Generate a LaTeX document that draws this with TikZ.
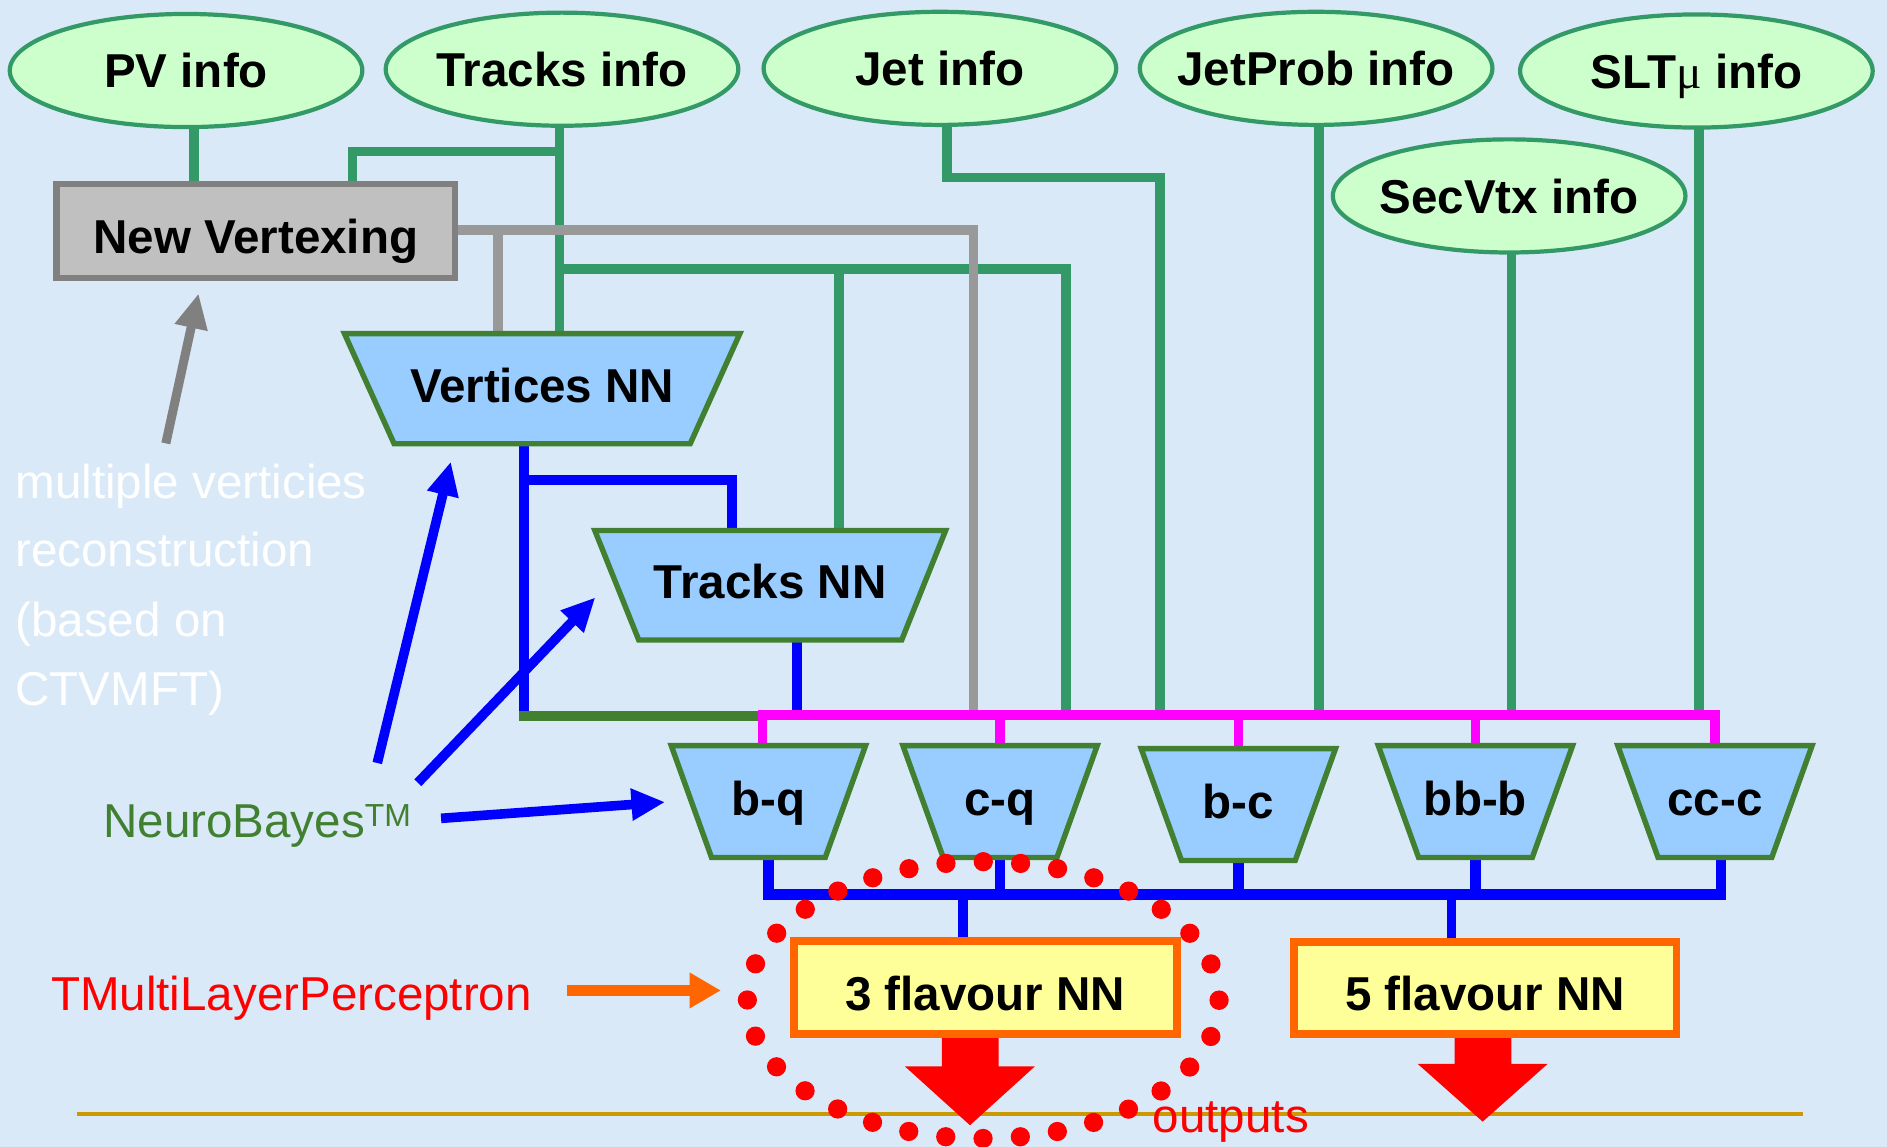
\documentclass[tikz,border=0pt]{standalone}
\usepackage{fontspec}
\setmainfont{Liberation Sans}
\newfontfamily\mufont{Liberation Serif}
\usetikzlibrary{arrows.meta,calc,shapes.geometric}
\pgfdeclarelayer{bgl}
\pgfdeclarelayer{lines}
\pgfdeclarelayer{shapes}
\pgfsetlayers{bgl,lines,shapes,main}
\definecolor{bgblue}{RGB}{218,233,248}
\definecolor{ellfill}{RGB}{204,255,204}
\definecolor{ellline}{RGB}{51,153,102}
\definecolor{trapfill}{RGB}{153,204,255}
\definecolor{trapline}{RGB}{64,128,48}
\definecolor{nvfill}{RGB}{192,192,192}
\definecolor{nvline}{RGB}{128,128,128}
\definecolor{greyline}{RGB}{153,153,153}
\definecolor{boxfill}{RGB}{255,255,153}
\definecolor{boxline}{RGB}{255,102,0}
\definecolor{goldline}{RGB}{204,153,0}
\definecolor{nbgreen}{RGB}{64,128,48}
\definecolor{pinkbus}{RGB}{255,0,255}
\definecolor{pureblue}{RGB}{0,0,255}
\definecolor{purered}{RGB}{255,0,0}
\newcommand\trapdraw[2]{\begin{pgfonlayer}{shapes}\draw[trapshape] (#1.north west) -- (#1.north east) -- ([xshift=-#2]#1.south east) -- ([xshift=#2]#1.south west) -- cycle;\end{pgfonlayer}}
\begin{document}
\begin{tikzpicture}[x=0.6pt,y=-0.6pt,
  lbl/.style={font=\fontsize{23.7}{28}\selectfont\bfseries, inner sep=0pt, outer sep=0pt},
  plain/.style={font=\fontsize{23.7}{28}\selectfont, inner sep=0pt, outer sep=0pt},
  info/.style={lbl, ellipse, draw=ellline, fill=ellfill, line width=2.1pt,
     minimum width=175.8pt, minimum height=56.4pt, text height=17.06pt, text depth=0pt},
  trapnode/.style={lbl, rectangle, text height=17.06pt, text depth=3.6pt},
  bigtrap/.style={trapnode, minimum width=197.1pt, minimum height=54.9pt},
  midtrap/.style={trapnode, minimum width=174.9pt, minimum height=54.6pt},
  smalltrap/.style={trapnode, minimum width=96.9pt, minimum height=55.8pt},
  trapshape/.style={draw=trapline, fill=trapfill, line width=2.7pt, line join=miter},
  nvbox/.style={lbl, rectangle, draw=nvline, fill=nvfill, line width=3.3pt,
     minimum width=198.6pt, minimum height=46.8pt, text height=22.75pt, text depth=0pt},
  fbox/.style={lbl, rectangle, draw=boxline, fill=boxfill, line width=3.9pt,
     minimum width=190.8pt, minimum height=46.2pt, text height=22.75pt, text depth=0pt},
  gline/.style={draw=ellline, line width=4.8pt},
  grline/.style={draw=greyline, line width=4.8pt},
  bline/.style={draw=pureblue, line width=4.8pt},
  bbusline/.style={draw=pureblue, line width=5.4pt},
  pline/.style={draw=pinkbus, line width=4.8pt},
  dgline/.style={draw=trapline, line width=4.8pt},
  barrow/.style={draw=pureblue, line width=4.8pt, -{Triangle[length=16.8pt,width=15pt]}},
  grarrow/.style={draw=nvline, line width=4.5pt, -{Triangle[length=17.4pt,width=15.6pt]}},
  orarrow/.style={draw=boxline, line width=5.4pt, -{Triangle[length=15.6pt,width=16.8pt]}},
  redarrow/.style={fill=purered},
  goldl/.style={draw=goldline, line width=2.16pt},
  dots/.style={draw=purered, line width=9.6pt, line cap=round, dash pattern=on 0pt off 18.63pt}
]
\useasboundingbox (0,0) rectangle (1568,953);
\begin{pgfonlayer}{bgl}
\fill[bgblue] (0,0) rectangle (1568,953);
\end{pgfonlayer}

% info ellipses
\node[info] (pv)    at (154.6,58.6)  {\makebox[0pt]{PV info}};
\node[info] (tinfo) at (467,57.5)    {\makebox[0pt]{Tracks info}};
\node[info] (jet)   at (781,56.8)    {\makebox[0pt]{Jet info}};
\node[info] (jp)    at (1093.6,56.8) {\makebox[0pt]{JetProb info}};
\node[info] (slt)   at (1409.6,59)   {\makebox[0pt]{SLT{\mufont\mdseries μ} info}};
\node[info] (sv)    at (1254,162.8)  {\makebox[0pt]{SecVtx info}};

% boxes
\node[nvbox] (nv) at (212.5,192) {New Vertexing};
\node[bigtrap] (vnn) at (450.5,323) {Vertices NN};
\node[midtrap] (tnn) at (640,486.3) {Tracks NN};
\node[smalltrap] (bq)  at (638.5,666) {b-q};
\node[smalltrap] (cq)  at (831,666)   {c-q};
\node[smalltrap] (bc)  at (1029,668.5) {b-c};
\node[smalltrap] (bbb) at (1226,666)  {bb-b};
\node[smalltrap] (ccc) at (1425,666)  {cc-c};
\trapdraw{vnn}{24.75pt}
\trapdraw{tnn}{21.9pt}
\trapdraw{bq}{20.1pt}
\trapdraw{cq}{20.1pt}
\trapdraw{bc}{20.1pt}
\trapdraw{bbb}{20.1pt}
\trapdraw{ccc}{20.1pt}
\node[fbox] (f3) at (818.7,820.5) {3 flavour NN};
\node[fbox] (f5) at (1234,821) {5 flavour NN};

% texts
\node[plain, text=white, anchor=base west] (mv1) at (12.9,414) {multiple verticies};
\node[plain, text=white, anchor=base west] (mv2) at (12.9,471) {reconstruction};
\node[plain, text=white, anchor=base west] (mv3) at (12.9,529) {(based on};
\node[plain, text=white, anchor=base west] (mv4) at (12.9,586) {CTVMFT)};
\node[plain, text=nbgreen, anchor=base west] (nb) at (85.8,696)
  {NeuroBayes\raisebox{5.6pt}{\fontsize{15.9}{16}\selectfont TM}};
\node[plain, text=purered, anchor=base west] (tmlp) at (42.4,840) {TMultiLayerPerceptron};

\coordinate (bus) at (0,594);
\coordinate (bbus) at (0,743.5);

\begin{pgfonlayer}{lines}
% green info lines
\draw[gline] (161,0 |- pv.south) -- (161,0 |- nv.north);
\draw[gline] (465,0 |- tinfo.south) -- (465,0 |- vnn.north);
\draw[gline] (465,126) -| (293,0 |- nv.north);
\draw[gline] (465,223.6) -| (886,0 |- bus);
\draw[gline] (697,223.6) -- (697,0 |- tnn.north);
\draw[gline] (787,0 |- jet.south) |- (964,147.4) -- (964,0 |- bus);
\draw[gline] (1096,0 |- jp.south) -- (1096,0 |- bus);
\draw[gline] (1256,0 |- sv.south) -- (1256,0 |- bus);
\draw[gline] (1412,0 |- slt.south) -- (1412,0 |- bus);
% grey
\draw[grline] (nv.east |- 0,191) -| (809,0 |- bus);
\draw[grline] (414,191) -- (414,0 |- vnn.north);
% blue from upper NNs
\draw[bline] (435.4,0 |- vnn.south) -- (435.4,0 |- bus);
\draw[bline] (435.4,399) -| (608,0 |- tnn.north);
\draw[bline] (662,0 |- tnn.south) -- (662,0 |- bus);
\draw[dgline] (431.4,594.7) -- (633.5,594.7);
% pink bus
\draw[pline] (633.5,0 |- bq.north) -- (633.5,0 |- bus) -- (ccc.north |- bus) -- (ccc.north);
\foreach \n in {cq,bc,bbb} \draw[pline] (\n.north |- bus) -- (\n.north);
% blue bottom bus
\draw[bbusline] (bq.south) -- (bq.south |- bbus) -- ([xshift=3pt]ccc.south |- bbus) -- ([xshift=3pt]ccc.south);
\foreach \n in {cq,bc,bbb} \draw[bbusline] (\n.south) -- (\n.south |- bbus);
\draw[bline] (800,0 |- bbus) -- (800,0 |- f3.north);
\draw[bline] (1206,0 |- bbus) -- (1206,0 |- f5.north);
% gold line and output arrows
\draw[goldl] (63.7,925.6) -- (1498,925.6);
\fill[redarrow] (782.6,0 |- f3.south) -- (829.8,0 |- f3.south) -- (829.8,886) -- (860,886)
   -- (806,935) -- (751.8,886) -- (782.6,886) -- cycle;
\fill[redarrow] (1208.6,0 |- f5.south) -- (1255.8,0 |- f5.south) -- (1255.8,884) -- (1286,884)
   -- (1232,932) -- (1178,884) -- (1208.6,884) -- cycle;
\end{pgfonlayer}

% annotation arrows
\coordinate (nbA) at (313.5,634);
\coordinate (nbB) at (347.2,650.4);
\coordinate (nbC) at (366.5,680);
\coordinate (vtip) at (374.6,383.6);
\coordinate (ttip) at (494.7,496.4);
\coordinate (btip) at (552.7,666.5);
\draw[barrow] (nbA) -- (vtip);
\draw[barrow] (nbB) -- (ttip);
\draw[barrow] (nbC) -- (btip);
\coordinate (mvA) at (137.8,368.4);
\coordinate (nvtip) at (165,243.8);
\draw[grarrow] (mvA) -- (nvtip);
\coordinate (tmA) at (471,823);
\coordinate (tmtip) at (599,823);
\draw[orarrow] (tmA) -- (tmtip);

\node[plain, text=purered, anchor=base west] (outp) at (958,941) {outputs};
\draw[dots] (817,831) ellipse [x radius=117.6pt, y radius=69pt];
\end{tikzpicture}
\end{document}
